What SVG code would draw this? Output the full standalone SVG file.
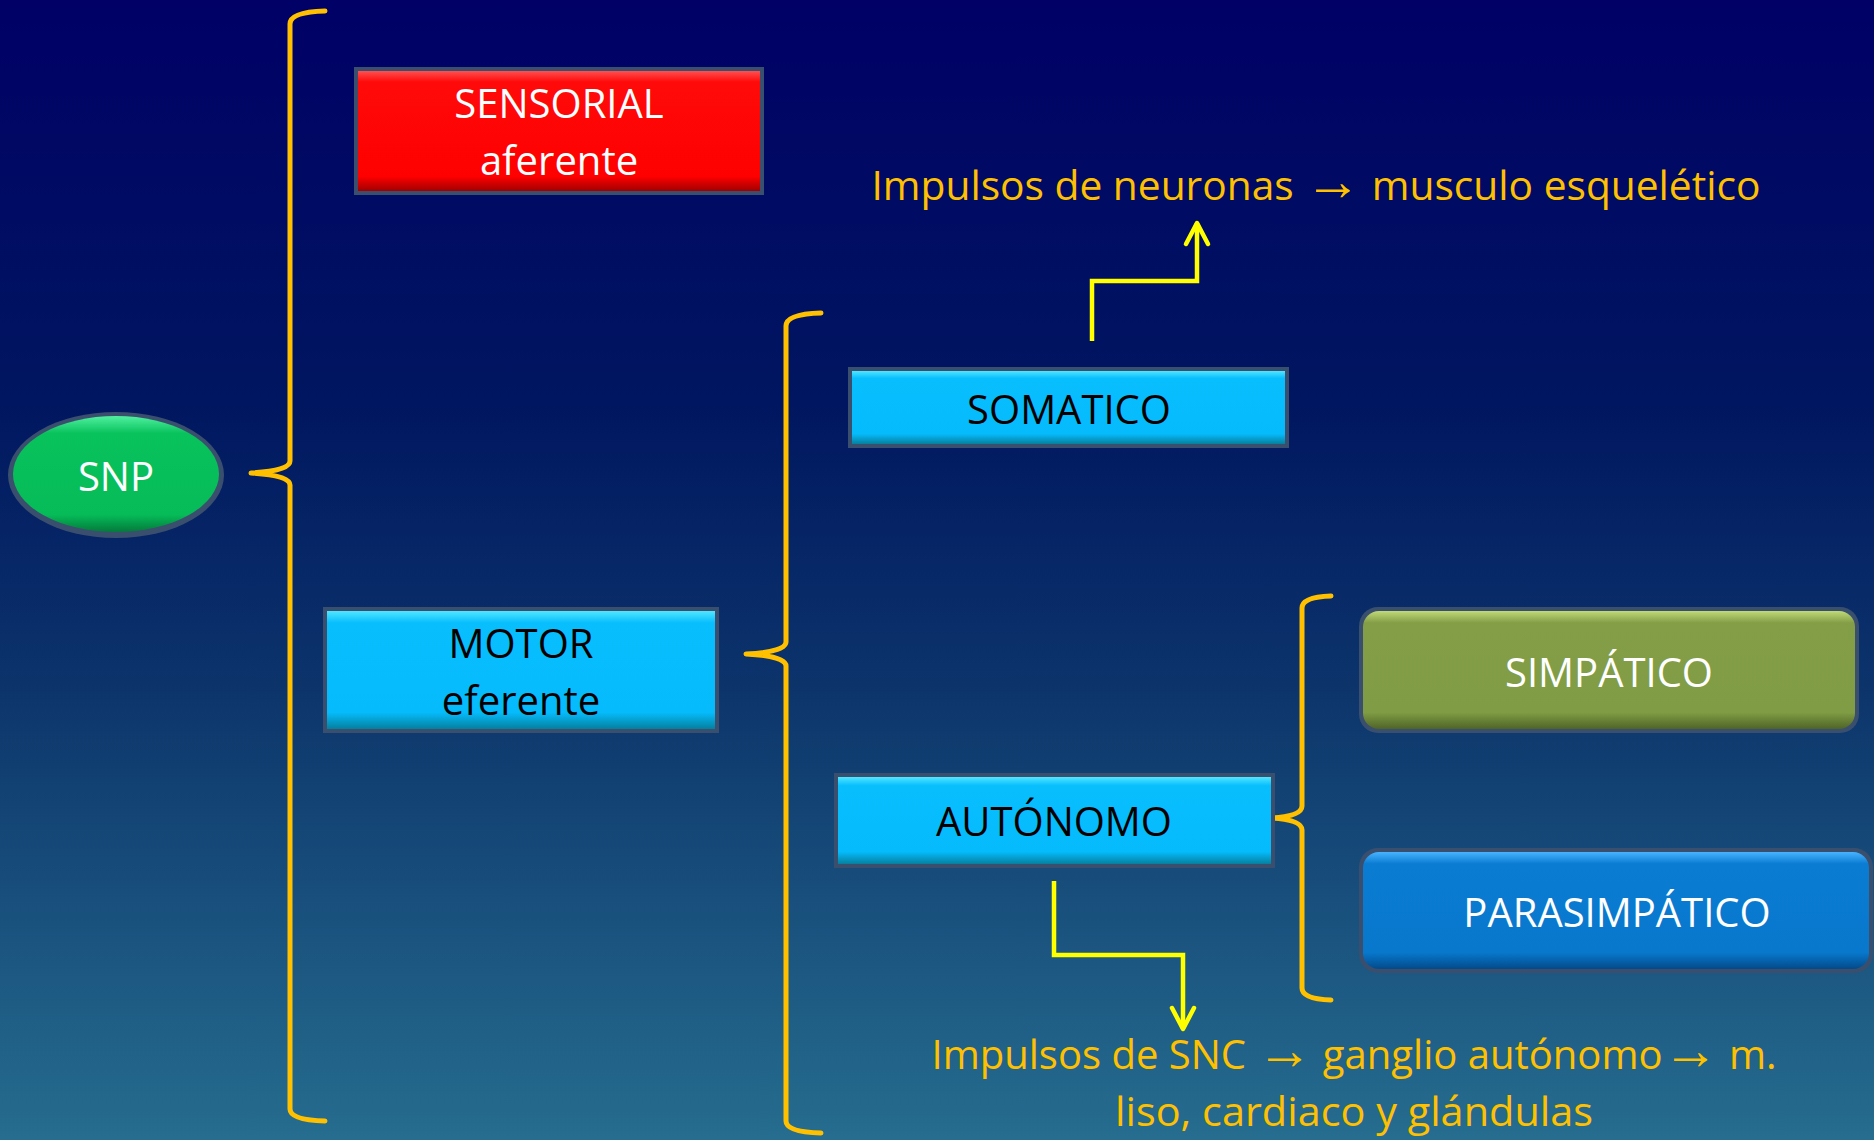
<svg xmlns="http://www.w3.org/2000/svg" width="1874" height="1140" viewBox="0 0 1874 1140">
<defs>
<linearGradient id="bg" x1="0" y1="0" x2="0" y2="1">
<stop offset="0" stop-color="#000066"/>
<stop offset="0.35" stop-color="#001660"/>
<stop offset="0.6" stop-color="#0c346b"/>
<stop offset="1" stop-color="#266d8f"/>
</linearGradient>
<linearGradient id="gRed" x1="0" y1="0" x2="0" y2="1">
<stop offset="0" stop-color="#ff5050"/><stop offset="0.09" stop-color="#ff0a0a"/><stop offset="0.88" stop-color="#fe0000"/><stop offset="1" stop-color="#a00000"/>
</linearGradient>
<linearGradient id="gCyan" x1="0" y1="0" x2="0" y2="1">
<stop offset="0" stop-color="#50e6ff"/><stop offset="0.1" stop-color="#08befd"/><stop offset="0.86" stop-color="#06bbfc"/><stop offset="1" stop-color="#04809f"/>
</linearGradient>
<linearGradient id="gOlive" x1="0" y1="0" x2="0" y2="1">
<stop offset="0" stop-color="#c0da78"/><stop offset="0.1" stop-color="#839e46"/><stop offset="0.86" stop-color="#809c44"/><stop offset="1" stop-color="#4e6428"/>
</linearGradient>
<linearGradient id="gBlue" x1="0" y1="0" x2="0" y2="1">
<stop offset="0" stop-color="#48b4ff"/><stop offset="0.1" stop-color="#0a7cd2"/><stop offset="0.86" stop-color="#0778cc"/><stop offset="1" stop-color="#044a8a"/>
</linearGradient>
<linearGradient id="gGreen" x1="0" y1="0" x2="0" y2="1">
<stop offset="0" stop-color="#50f0a0"/><stop offset="0.15" stop-color="#08c25c"/><stop offset="0.85" stop-color="#06bc58"/><stop offset="1" stop-color="#047a3c"/>
</linearGradient>
<marker id="arr" markerUnits="userSpaceOnUse" markerWidth="34" markerHeight="34" viewBox="-28 -17 34 34" refX="0" refY="0" orient="auto">
<path d="M-21,-11 L0,0 L-21,11" fill="none" stroke="#ffff00" stroke-width="4.5" stroke-linecap="round" stroke-linejoin="round"/>
</marker>
<style>
.t{font-family:"Open Sans","Liberation Sans",sans-serif;font-size:40px;text-anchor:middle}
.w{fill:#ffffff}
.k{fill:#000000}
.o{fill:#ffc000}
.a{font-size:56px}
.edge{fill:#3a4f6e}
.br{fill:none;stroke:#ffc000;stroke-width:5;stroke-linecap:round;stroke-linejoin:round}
.ar{fill:none;stroke:#ffff00;stroke-width:4.5;stroke-linejoin:miter}
</style>
</defs>
<rect x="0" y="0" width="1874" height="1140" fill="url(#bg)"/>

<g id="connectors">
<path class="br" d="M325,11 Q290,12 290,24 L290,461 Q290,471 251,473 Q290,475 290,485 L290,1109 Q290,1120 325,1121"/>
<path class="br" d="M821,313 Q786,314 786,326 L786,642 Q786,652 746,654 Q786,656 786,666 L786,1121 Q786,1132 821,1133"/>
<path class="br" d="M1331,596 Q1302,597 1302,608 L1302,806 Q1302,816 1272,818 Q1302,820 1302,830 L1302,988 Q1302,999 1331,1000"/>
<path class="ar" d="M1092,341 L1092,281 L1197,281 L1197,223" marker-end="url(#arr)"/>
<path class="ar" d="M1054,881 L1054,955 L1183,955 L1183,1029" marker-end="url(#arr)"/>
</g>

<g id="snp">
<ellipse cx="116" cy="475" rx="108" ry="63" fill="#3a4f6e"/>
<ellipse cx="116" cy="474" rx="103" ry="58" fill="url(#gGreen)"/>
<text class="t w" x="116" y="491">SNP</text>
</g>

<g id="sensorial">
<rect class="edge" x="354" y="67" width="410" height="128"/>
<rect x="358" y="71" width="402" height="120" fill="url(#gRed)"/>
<text class="t w" x="559" y="118">SENSORIAL</text>
<text class="t w" x="559" y="175">aferente</text>
</g>

<g id="motor">
<rect class="edge" x="323" y="607" width="396" height="126"/>
<rect x="327" y="611" width="388" height="118" fill="url(#gCyan)"/>
<text class="t k" x="521" y="658">MOTOR</text>
<text class="t k" x="521" y="715">eferente</text>
</g>

<g id="somatico">
<rect class="edge" x="848" y="367" width="441" height="81"/>
<rect x="852" y="371" width="433" height="73" fill="url(#gCyan)"/>
<text class="t k" x="1069" y="424">SOMATICO</text>
</g>

<g id="autonomo">
<rect class="edge" x="834" y="773" width="441" height="95"/>
<rect x="838" y="777" width="433" height="87" fill="url(#gCyan)"/>
<text class="t k" x="1054" y="836">AUTÓNOMO</text>
</g>

<g id="simpatico">
<rect class="edge" x="1359" y="607" width="500" height="126" rx="19"/>
<rect x="1363" y="611" width="492" height="118" rx="16" fill="url(#gOlive)"/>
<text class="t w" x="1609" y="687">SIMPÁTICO</text>
</g>

<g id="parasimpatico">
<rect class="edge" x="1359" y="848" width="514" height="125" rx="19"/>
<rect x="1363" y="852" width="506" height="117" rx="16" fill="url(#gBlue)"/>
<text class="t w" x="1617" y="927">PARASIMPÁTICO</text>
</g>

<g id="label-somatico">
<text class="t o" x="1316" y="200" textLength="889" lengthAdjust="spacingAndGlyphs">Impulsos de neuronas <tspan class="a">→</tspan> musculo esquelético</text>
</g>

<g id="label-autonomo">
<text class="t o" x="1354" y="1069" textLength="845" lengthAdjust="spacingAndGlyphs">Impulsos de SNC <tspan class="a">→</tspan> ganglio autónomo<tspan class="a">→</tspan> m.</text>
<text class="t o" x="1354" y="1126" textLength="478" lengthAdjust="spacingAndGlyphs">liso, cardiaco y glándulas</text>
</g>
</svg>
